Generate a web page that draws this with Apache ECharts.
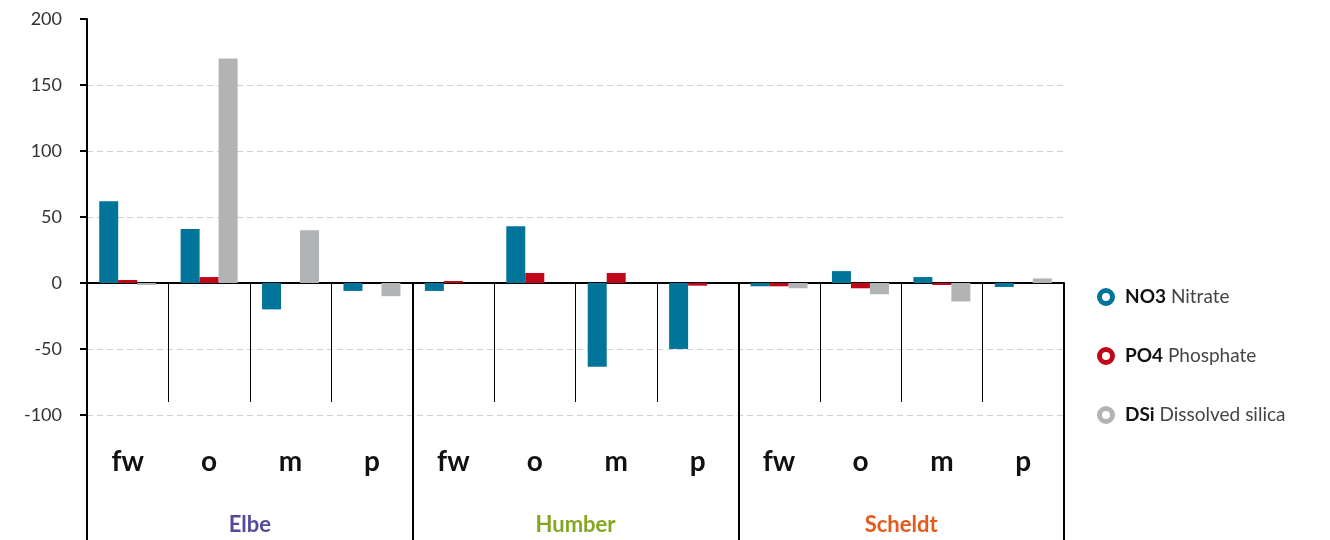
<!DOCTYPE html>
<html lang="en">
<head>
<meta charset="utf-8">
<title>Nutrient change by river</title>
<script src="https://cdn.jsdelivr.net/npm/echarts@6/dist/echarts.min.js"></script>
<style>
  html, body { margin: 0; padding: 0; background: #fff; }
  #chart { width: 1330px; height: 540px; }
</style>
</head>
<body>
<div id="chart"></div>
<script>
// rivers and the four zones shown under each one
var rivers = ['Elbe', 'Humber', 'Scheldt'];
var riverColors = ['#524a9a', '#86a623', '#e35a1c'];
var zones = ['fw', 'o', 'm', 'p'];

// values, in order Elbe fw..p, Humber fw..p, Scheldt fw..p
var nitrate   = [62, 41, -20, -6,   -6, 43, -63.5, -50,   -2.5, 9, 4.5, -3];
var phosphate = [2.3, 4.5, 0, 0,    1.5, 7.6, 7.6, -2,    -2.5, -4, -1.5, 0];
var silica    = [-1.5, 170, 40, -10, 0, 0, 0, 0,          -4, -8.5, -14, 3.5];

var seriesNames = ['Nitrate', 'Phosphate', 'Dissolved silica'];
var formulas = ['NO3', 'PO4', 'DSi'];
var seriesColors = ['#007599', '#c0071a', '#b2b3b4'];

var yTicks = [-100, -50, 0, 50, 100, 150, 200];

var categories = [];
rivers.forEach(function (r) {
  zones.forEach(function (z) { categories.push(r + '|' + z); });
});

var chart = echarts.init(document.getElementById('chart'));
var font = 'Lato';

function bar(i, data) {
  return {
    name: seriesNames[i],
    type: 'bar',
    data: data,
    barWidth: 19,
    barGap: '0%',
    itemStyle: { color: seriesColors[i] }
  };
}

chart.setOption({
  animation: false,
  grid: {
    left: 87, right: 266, top: 19, bottom: 125,
    containLabel: false,
    outerBoundsMode: 'none'
  },
  legend: {
    orient: 'vertical',
    left: 1092,
    top: 281,
    itemWidth: 28,
    itemHeight: 13,
    itemGap: 37,
    icon: 'circle',
    data: seriesNames.map(function (n, i) {
      return {
        name: n,
        itemStyle: { color: '#fff', borderColor: seriesColors[i], borderWidth: 5 }
      };
    }),
    formatter: function (name) {
      return '{b|' + formulas[seriesNames.indexOf(name)] + '} ' + name;
    },
    textStyle: {
      fontFamily: font,
      fontSize: 19,
      color: '#444',
      lineHeight: 22,
      rich: {
        b: { fontFamily: font, fontSize: 19, fontWeight: 'bold', color: '#111' }
      }
    }
  },
  xAxis: [{
    type: 'category',
    data: categories,
    axisLine: { onZero: true, lineStyle: { color: '#000', width: 2 } },
    axisTick: { show: true, length: 119, lineStyle: { color: '#000', width: 1 } },
    axisLabel: {
      margin: 33,
      interval: 0,
      fontFamily: font,
      fontSize: 28,
      fontWeight: 'bold',
      color: '#111',
      formatter: function (v) { return v.split('|')[1]; }
    },
    splitLine: { show: false }
  }, {
    type: 'category',
    position: 'bottom',
    offset: -132,
    data: rivers.map(function (r, i) {
      return { value: r, textStyle: { color: riverColors[i] } };
    }),
    axisLine: { show: false, onZero: false },
    axisTick: { show: true, length: 257, lineStyle: { color: '#000', width: 2 } },
    axisLabel: {
      margin: 231,
      interval: 0,
      fontFamily: font,
      fontSize: 22,
      fontWeight: 'bold'
    },
    splitLine: { show: false }
  }],
  yAxis: {
    type: 'value',
    min: yTicks[0],
    max: yTicks[yTicks.length - 1],
    interval: 50,
    axisLine: { show: true, lineStyle: { color: '#000', width: 2 } },
    axisTick: { show: true, length: 7, lineStyle: { color: '#000', width: 2 } },
    axisLabel: {
      margin: 25,
      fontFamily: font,
      fontSize: 18,
      color: '#333'
    },
    splitLine: {
      show: true,
      showMaxLine: false,
      lineStyle: { color: '#cfcfcf', type: [6, 4], width: 1 }
    }
  },
  series: [bar(0, nitrate), bar(1, phosphate), bar(2, silica)]
});
</script>
</body>
</html>
